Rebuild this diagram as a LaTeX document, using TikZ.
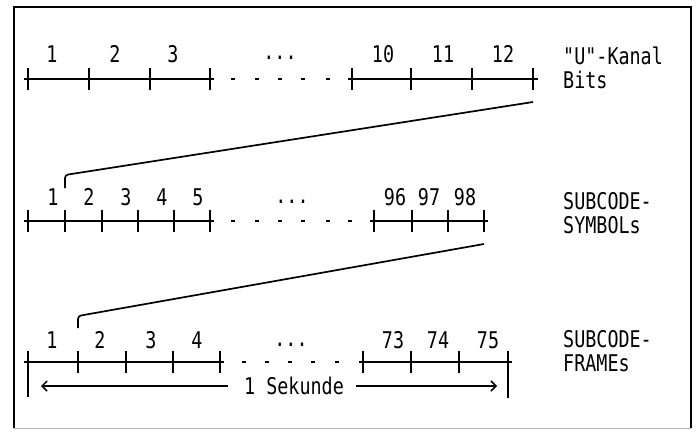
\documentclass[tikz,border=0pt]{standalone}
\usepackage{fontspec}
\newfontfamily\dotfont[FakeStretch=0.8]{DejaVu Sans Mono}
\usetikzlibrary{arrows.meta}

\begin{document}
\begin{tikzpicture}[x=1pt, y=-1pt,
  segline/.style={line width=1.5pt},
  tickmark/.style={line width=1.3pt},
  gapdash/.style={line width=1.5pt},
  linkline/.style={line width=1.7pt, rounded corners=3pt},
  numlbl/.style={font=\dotfont\fontsize{23}{23}\selectfont, inner sep=0pt},
  rowlbl/.style={font=\dotfont\fontsize{23}{23.5}\selectfont, inner sep=0pt, align=left, anchor=west}]
\useasboundingbox (0,0) rectangle (696,431);
\draw[line width=1.2pt] (14,428) -- (14,7) -- (691,7) -- (691,428);
\draw[line width=0.6pt, black!30] (14,428) -- (691,428);

% U-Kanal bits
\draw[segline] (24,79) -- (214,79);
\draw[segline] (348,79) -- (538,79);
\foreach \x [count=\i] in {28,89,150,210,352,411,472,533}
  \draw[tickmark] (\x,68) -- (\x,90) coordinate (bit\i);
\foreach \x in {233,257,280,303,328}
  \draw[gapdash] (\x-2,79) -- (\x+2,79);
\foreach \t/\x in {1/52,2/115,3/173,10/383,11/443,12/503}
  \node[numlbl] (bitlbl\t) at (\x,54) {\t};
\node[numlbl] (bitdots) at (280,58) {...};
\node[rowlbl] (kanal) at (563,68) {"U"-Kanal\\Bits};

% symbols
\draw[segline] (24,221) -- (214,221);
\draw[segline] (370,221) -- (488,221);
\foreach \x [count=\i] in {28,65,102,138,174,210,374,412,448,484}
  \draw[tickmark] (\x,210) -- (\x,232) coordinate (sym\i);
\foreach \x in {233,257,280,303,328,350}
  \draw[gapdash] (\x-2,221) -- (\x+2,221);
\foreach \t/\x in {1/53,2/89,3/126,4/162,5/198,96/395,97/429,98/465}
  \node[numlbl] (symlbl\t) at (\x,197) {\t};
\node[numlbl] (symdots) at (292,202) {...};
\node[rowlbl] (symbols) at (563,213) {SUBCODE-\\SYMBOLs};

% frames
\draw[segline] (24,362) -- (224,362);
\draw[segline] (359,362) -- (512,362);
\foreach \x [count=\i] in {78,126,173,220,363,411,459}
  \draw[tickmark] (\x,351) -- (\x,373) coordinate (frm\i);
\draw[tickmark] (28,351) -- (28,397) coordinate (secL);
\draw[tickmark] (508,351) -- (508,398) coordinate (secR);
\foreach \x in {244,267,290,313,337}
  \draw[gapdash] (\x-2,362) -- (\x+2,362);
\foreach \t/\x in {1/52,2/100,3/151,4/197,73/393,74/438,75/488}
  \node[numlbl] (frmlbl\t) at (\x,340) {\t};
\node[numlbl] (frmdots) at (291,345) {...};
\node[rowlbl] (frames) at (563,351) {SUBCODE-\\FRAMEs};

% one second
\node[numlbl] (sek) at (294,386) {1 Sekunde};
\draw[segline, -{Straight Barb[length=5pt,width=10pt]}, shorten >=13pt]
  ([xshift=-16pt]sek.west) -- (secL |- sek);
\draw[segline, -{Straight Barb[length=5pt,width=10pt]}, shorten >=11pt]
  ([xshift=12pt]sek.east) -- (secR |- sek);

% expansion lines
\coordinate (topA) at (533,102);
\coordinate (botA) at (65,188);
\draw[linkline] (topA) -- (65,175) -- (botA);
\coordinate (topB) at (484,244);
\coordinate (botB) at (78,328);
\draw[linkline] (topB) -- (78,316) -- (botB);
\end{tikzpicture}
\end{document}
